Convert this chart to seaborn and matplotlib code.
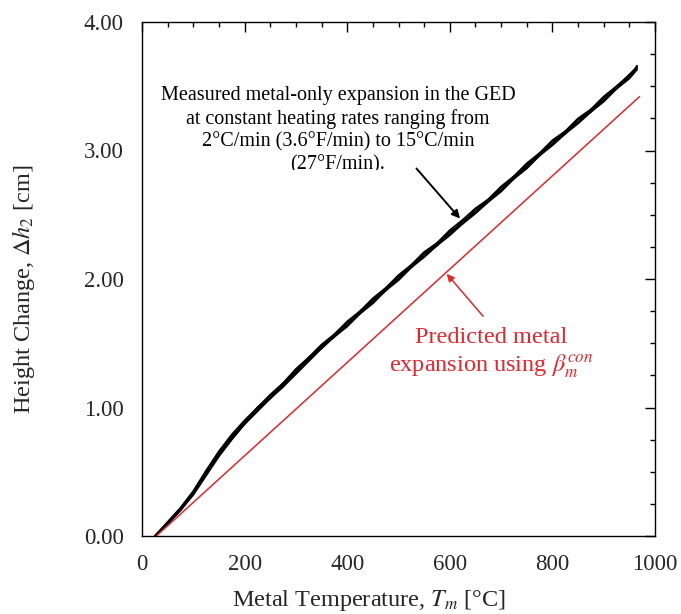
import matplotlib
matplotlib.use("Agg")
import matplotlib.pyplot as plt
from matplotlib.patches import Rectangle
from matplotlib.ticker import MultipleLocator, FormatStrFormatter
import seaborn as sns

# Metal temperature [°C] at which the height change was logged
temp_c = [25, 50, 75, 100, 125, 150, 175, 200, 225, 250, 275, 300, 325, 350,
          375, 400, 425, 450, 475, 500, 525, 550, 575, 600, 625, 650, 675,
          700, 725, 750, 775, 800, 825, 850, 875, 900, 925, 950, 965]

# Measured metal-only height change [cm], one list per heating rate
run_1 = [0.00, 0.11, 0.22, 0.35, 0.51, 0.66, 0.79, 0.90, 1.00, 1.10, 1.19, 1.30,
         1.39, 1.49, 1.57, 1.67, 1.75, 1.85, 1.93, 2.03, 2.11, 2.21, 2.28, 2.38,
         2.46, 2.55, 2.62, 2.72, 2.80, 2.90, 2.98, 3.08, 3.15, 3.25, 3.32, 3.42,
         3.50, 3.59, 3.65]
run_2 = [0.00, 0.09, 0.20, 0.32, 0.47, 0.62, 0.75, 0.87, 0.97, 1.07, 1.16, 1.26,
         1.36, 1.46, 1.55, 1.63, 1.73, 1.81, 1.91, 1.99, 2.09, 2.17, 2.26, 2.34,
         2.43, 2.51, 2.60, 2.68, 2.78, 2.86, 2.96, 3.04, 3.13, 3.21, 3.30, 3.38,
         3.48, 3.56, 3.63]
run_3 = [0.00, 0.10, 0.21, 0.34, 0.49, 0.65, 0.76, 0.89, 0.98, 1.09, 1.17, 1.29,
         1.37, 1.48, 1.55, 1.66, 1.73, 1.84, 1.91, 2.02, 2.09, 2.20, 2.26, 2.37,
         2.43, 2.54, 2.60, 2.71, 2.78, 2.89, 2.96, 3.07, 3.13, 3.24, 3.30, 3.41,
         3.48, 3.59, 3.64]
run_4 = [0.00, 0.10, 0.20, 0.33, 0.50, 0.63, 0.78, 0.87, 1.00, 1.07, 1.19, 1.27,
         1.39, 1.46, 1.57, 1.64, 1.75, 1.82, 1.93, 2.00, 2.11, 2.18, 2.28, 2.35,
         2.45, 2.52, 2.62, 2.69, 2.80, 2.87, 2.98, 3.05, 3.15, 3.22, 3.32, 3.39,
         3.50, 3.57, 3.66]
measured_runs = [run_1, run_2, run_3, run_4]

# Predicted expansion from the constant expansion coefficient
pred_temp_c = [28, 970]
pred_height = [0.00, 3.42]

x_ticks = [0, 200, 400, 600, 800, 1000]
y_ticks = [0.00, 1.00, 2.00, 3.00, 4.00]

RED = "#e2262b"

sns.set_theme(style="white")
plt.rcParams["font.family"] = ["Liberation Serif", "DejaVu Serif"]
plt.rcParams["mathtext.fontset"] = "stix"

fig = plt.figure(figsize=(6.81, 6.14), dpi=100)
ax = fig.add_axes([142 / 681, 1 - 536 / 614, 513 / 681, 514 / 614])

for run in measured_runs:
    sns.lineplot(x=temp_c, y=run, ax=ax, color="black", lw=1.3,
                 sort=False, estimator=None)
sns.lineplot(x=pred_temp_c, y=pred_height, ax=ax, color=RED, lw=1.1,
             sort=False, estimator=None)

ax.set_xlim(0, 1000)
ax.set_ylim(0, 4)
ax.set_xticks(x_ticks)
ax.set_yticks(y_ticks)
ax.xaxis.set_minor_locator(MultipleLocator(50))
ax.yaxis.set_minor_locator(MultipleLocator(0.25))
ax.yaxis.set_major_formatter(FormatStrFormatter("%.2f"))
ax.xaxis.set_major_formatter(FormatStrFormatter("%d"))
ax.tick_params(which="both", direction="in", top=True, right=True,
               color="black", width=1.0)
ax.tick_params(which="major", length=7, labelsize=16.5)
ax.tick_params(axis="x", which="major", pad=13)
ax.tick_params(axis="y", which="major", pad=13)
ax.tick_params(which="minor", length=3.5)
for s in ax.spines.values():
    s.set_color("black")
    s.set_linewidth(1.0)

ax.set_xlabel(r"Metal Temperature, $T_m$ [°C]", fontsize=17.5)
ax.set_ylabel(r"Height Change, $\Delta h_2$ [cm]", fontsize=17.5)
ax.xaxis.set_label_coords(0.4425, -0.102)
ax.yaxis.set_label_coords(-0.205, 0.48)

note = ax.text(382, 3.50,
               "Measured metal-only expansion in the GED\n"
               "at constant heating rates ranging from\n"
               "2°C/min (3.6°F/min) to 15°C/min\n"
               "(27°F/min).",
               ha="center", va="top", fontsize=14.5, linespacing=1.25,
               color="black", clip_on=True)
clip = Rectangle((0, 2.85), 1000, 1.15, transform=ax.transData)
note.set_clip_path(clip)

ax.annotate("", xy=(620, 2.47), xytext=(535, 2.86),
            arrowprops=dict(arrowstyle="-|>", color="black", lw=1.4,
                            mutation_scale=12, shrinkA=0, shrinkB=0))

ax.text(680, 1.42, "Predicted metal\nexpansion using $\\beta_m^{con}$",
        ha="center", va="center", fontsize=17.5, color=RED, linespacing=1.2)
ax.annotate("", xy=(594, 2.04), xytext=(665, 1.71),
            arrowprops=dict(arrowstyle="-|>", color=RED, lw=1.1,
                            mutation_scale=11, shrinkA=0, shrinkB=0))

fig.savefig("out.png", dpi=100, facecolor="white")
